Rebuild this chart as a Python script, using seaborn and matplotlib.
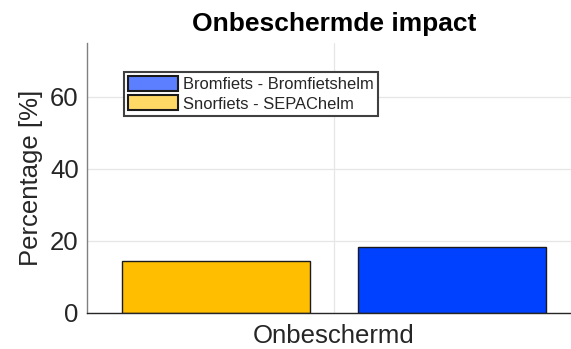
import matplotlib
matplotlib.use("Agg")
import matplotlib.pyplot as plt
import matplotlib.patches as mpatches
import seaborn as sns
import pandas as pd

# Data
categories = ["Onbeschermd", "Onbeschermd"]
groups = ["Snorfiets - SEPAChelm", "Bromfiets - Bromfietshelm"]
values = [14.5, 18.4]
bar_colors = ["#FFBF00", "#0040FF"]
legend_colors = ["#FFD966", "#5B7FFF"]
yticks = [0, 20, 40, 60]

df = pd.DataFrame({"Categorie": categories, "Groep": groups, "Percentage": values})

sns.set_theme(style="whitegrid")
plt.rcParams["font.family"] = ["Liberation Sans", "DejaVu Sans"]

fig = plt.figure(figsize=(5.71, 3.49), dpi=100)
ax = fig.add_axes([87 / 571, 36 / 349, 494 / 571, 270 / 349])

sns.barplot(data=df, x="Categorie", y="Percentage", hue="Groep",
            hue_order=groups, palette=bar_colors, saturation=1,
            width=0.8, gap=0.2, edgecolor="#1a1a1a", linewidth=1.0,
            ax=ax, legend=False)

ax.set_xlim(-0.42, 0.42)
ax.set_ylim(0, 75)
ax.set_yticks(yticks)
ax.set_yticklabels([str(v) for v in yticks])

ax.grid(True, color="#e6e6e6", linewidth=0.9)
ax.set_axisbelow(True)
for side in ["top", "right"]:
    ax.spines[side].set_visible(False)
ax.spines["left"].set_color("#808080")
ax.spines["left"].set_linewidth(1.0)
ax.spines["bottom"].set_color("#262626")
ax.spines["bottom"].set_linewidth(1.0)

ax.tick_params(axis="both", direction="in", length=4, width=1,
               colors="#262626", labelsize=18.5, pad=6)

ax.set_xlabel("Onbeschermd", fontsize=18.5, color="#262626", labelpad=2)
ax.set_xticklabels([""])
ax.set_ylabel("Percentage [%]", fontsize=18.5, color="#262626", labelpad=5)
ax.set_title("Onbeschermde impact", fontsize=19, fontweight="bold",
             color="black", pad=9)

handles = [
    mpatches.Patch(facecolor=legend_colors[1], edgecolor="#1a1a1a", linewidth=1.5,
                   label=groups[1]),
    mpatches.Patch(facecolor=legend_colors[0], edgecolor="#1a1a1a", linewidth=1.5,
                   label=groups[0]),
]
leg = ax.legend(handles=handles, loc="upper left",
                bbox_to_anchor=(124 / 571, 1 - 72 / 349),
                bbox_transform=fig.transFigure, borderaxespad=0,
                fontsize=11.9, frameon=True, fancybox=False,
                handlelength=3.0, handleheight=1.0, handletextpad=0.3,
                borderpad=0.25, labelspacing=0.2)
leg.get_frame().set_edgecolor("#404040")
leg.get_frame().set_linewidth(1.5)
leg.get_frame().set_facecolor("white")
leg.get_frame().set_alpha(1.0)

fig.savefig("out.png", dpi=100)
